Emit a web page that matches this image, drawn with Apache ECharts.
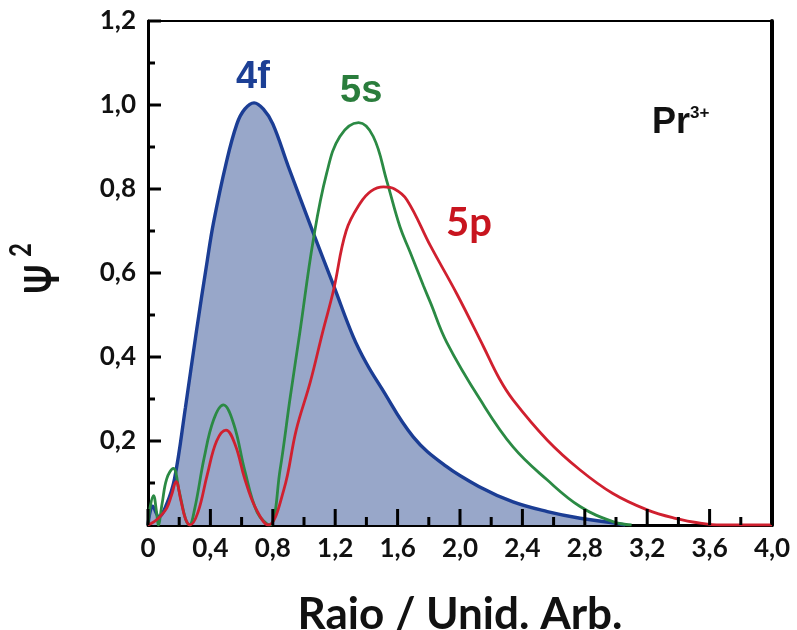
<!DOCTYPE html>
<html>
<head>
<meta charset="utf-8">
<script src="https://cdn.jsdelivr.net/npm/echarts@6/dist/echarts.min.js"></script>
<style>
html,body{margin:0;padding:0;background:#fff;}
#chart{width:797px;height:630px;}
</style>
</head>
<body>
<div id="chart"></div>
<script>
// ---- data ----
const f4X = [0, 0.03, 0.07, 0.12, 0.17, 0.24, 0.31, 0.38, 0.42, 0.50, 0.57, 0.62, 0.68, 0.74, 0.80, 0.90, 1.06, 1.19, 1.316, 1.40, 1.49, 1.70, 1.91, 2.13, 2.34, 2.56, 2.77, 2.98, 3.06];
const f4Y = [0, 0.045, 0.02, 0.05, 0.11, 0.28, 0.46, 0.63, 0.72, 0.86, 0.955, 0.99, 1.005, 0.99, 0.955, 0.853, 0.695, 0.57, 0.448, 0.385, 0.33, 0.21, 0.14, 0.09, 0.055, 0.032, 0.016, 0.005, 0];

const s5X = [0, 0.015, 0.035, 0.055, 0.066, 0.09, 0.12, 0.162, 0.2, 0.24, 0.265, 0.3, 0.36, 0.42, 0.483, 0.55, 0.62, 0.7, 0.78, 0.846, 0.91, 0.974, 1.06, 1.145, 1.23, 1.35, 1.444, 1.53, 1.615, 1.68, 1.765, 1.81, 1.915, 2.13, 2.34, 2.56, 2.77, 2.98, 3.1];
const s5Y = [0, 0.045, 0.07, 0.03, 0, 0.05, 0.11, 0.135, 0.08, 0.015, 0, 0.04, 0.16, 0.25, 0.286, 0.24, 0.13, 0.03, 0, 0.13, 0.30, 0.46, 0.68, 0.837, 0.925, 0.958, 0.925, 0.82, 0.71, 0.65, 0.57, 0.53, 0.435, 0.298, 0.186, 0.107, 0.044, 0.008, 0];

const p5X = [0, 0.04, 0.077, 0.12, 0.15, 0.18, 0.21, 0.24, 0.27, 0.32, 0.38, 0.44, 0.5, 0.56, 0.62, 0.69, 0.77, 0.87, 0.95, 1.04, 1.12, 1.19, 1.27, 1.36, 1.43, 1.51, 1.58, 1.66, 1.81, 1.98, 2.15, 2.25, 2.34, 2.56, 2.77, 2.98, 3.2, 3.38, 3.55, 3.67, 4.0];
const p5Y = [0, 0.008, 0.02, 0.04, 0.07, 0.103, 0.06, 0.015, 0, 0.03, 0.12, 0.2, 0.226, 0.19, 0.11, 0.04, 0, 0.083, 0.226, 0.34, 0.46, 0.56, 0.70, 0.766, 0.795, 0.805, 0.80, 0.774, 0.665, 0.55, 0.425, 0.35, 0.298, 0.202, 0.131, 0.075, 0.036, 0.016, 0.004, 0, 0];

// tick values (major ticks carry labels)
const xTicks = [0, 0.4, 0.8, 1.2, 1.6, 2.0, 2.4, 2.8, 3.2, 3.6, 4.0];
const xMinorTicks = [0.2, 0.6, 1.0, 1.4, 1.8, 2.2, 2.6, 3.0, 3.4, 3.8];
const yTicks = [0.2, 0.4, 0.6, 0.8, 1.0, 1.2];
const yMinorTicks = [0.1, 0.3, 0.5, 0.7, 0.9, 1.1];

const curveNames = ['4f', '5s', '5p'];
const xTitle = 'Raio / Unid. Arb.';

// ---- helpers ----
const zip = (xs, ys) => xs.map((x, i) => [x, ys[i]]);
const fmt = v => v === 0 ? '0' : v.toFixed(1).replace('.', ',');

const chart = echarts.init(document.getElementById('chart'), null, {renderer: 'canvas'});
const tickFont = {fontFamily: 'Lato', fontWeight: 'bold', fontSize: 26, color: '#111'};

const textGraphics = [
  {type: 'text', left: 236, top: 59, z: 50, style: {text: curveNames[0], font: 'bold 38px "Liberation Sans Narrow", "Liberation Sans", sans-serif', fill: '#1c3f95'}},
  {type: 'text', left: 340, top: 73, z: 50, style: {text: curveNames[1], font: 'bold 38px "Liberation Sans Narrow", "Liberation Sans", sans-serif', fill: '#2a7d3c'}},
  {type: 'text', left: 446, top: 203, z: 50, style: {text: curveNames[2], font: 'bold 40px Lato, sans-serif', fill: '#c8151f'}},
  {type: 'text', left: 652, top: 101, z: 50, style: {
    text: '{a|Pr}{b|3+}',
    rich: {
      a: {fontFamily: 'Liberation Sans', fontWeight: 'bold', fontSize: 36, fill: '#111', lineHeight: 40, verticalAlign: 'bottom'},
      b: {fontFamily: 'Liberation Sans', fontWeight: 'bold', fontSize: 17, fill: '#111', lineHeight: 40, verticalAlign: 'top', padding: [4, 0, 0, 0]}
    }
  }},
  {type: 'text', x: 44, y: 279, rotation: Math.PI / 2, scaleX: 0.72, z: 50, style: {
    text: 'Ψ', font: 'bold 48px Lato, sans-serif', fill: '#111', align: 'center', verticalAlign: 'middle'
  }},
  {type: 'text', x: 21, y: 250, rotation: Math.PI / 2, scaleX: 0.8, z: 50, style: {
    text: '2', font: 'bold 30px Lato, sans-serif', fill: '#111', align: 'center', verticalAlign: 'middle'
  }}
];

const option = {
  animation: false,
  backgroundColor: '#fff',
  grid: {left: 148, right: 25, top: 21, bottom: 105, containLabel: false, outerBoundsMode: 'none'},
  xAxis: [{
    type: 'value', min: 0, max: 4, interval: 0.4,
    axisLine: {show: true, onZero: false, lineStyle: {color: '#000', width: 3}},
    axisTick: {show: false}, minorTick: {show: false},
    splitLine: {show: false},
    axisLabel: Object.assign({margin: 11, formatter: v => xTicks.some(t => Math.abs(t - v) < 1e-6) ? fmt(v) : ''}, tickFont),
    name: xTitle, nameLocation: 'middle', nameGap: 68,
    nameTextStyle: {fontFamily: 'Lato', fontWeight: 'bold', fontSize: 44, color: '#111'}
  }, {
    type: 'value', min: 0, max: 4, position: 'top',
    axisLine: {show: true, onZero: false, lineStyle: {color: '#000', width: 2}},
    axisTick: {show: false}, axisLabel: {show: false}, splitLine: {show: false}
  }],
  yAxis: [{
    type: 'value', min: 0, max: 1.2, interval: 0.2,
    axisLine: {show: true, onZero: false, lineStyle: {color: '#000', width: 3}},
    axisTick: {show: false}, minorTick: {show: false},
    splitLine: {show: false},
    axisLabel: Object.assign({margin: 12, formatter: v => yTicks.some(t => Math.abs(t - v) < 1e-6) ? fmt(v) : ''}, tickFont)
  }, {
    type: 'value', min: 0, max: 1.2, position: 'right',
    axisLine: {show: true, onZero: false, lineStyle: {color: '#000', width: 4}},
    axisTick: {show: false}, axisLabel: {show: false}, splitLine: {show: false}
  }],
  series: [{
    name: curveNames[0], type: 'line', data: zip(f4X, f4Y), smooth: 0.4,
    symbol: 'none', z: 2,
    lineStyle: {color: '#1b3d94', width: 3.4},
    areaStyle: {color: '#98a7c9', opacity: 1}
  }, {
    name: curveNames[1], type: 'line', data: zip(s5X, s5Y), smooth: 0.4,
    symbol: 'none', z: 3,
    lineStyle: {color: '#2b8a44', width: 2.8}
  }, {
    name: curveNames[2], type: 'line', data: zip(p5X, p5Y), smooth: 0.4,
    symbol: 'none', z: 4,
    lineStyle: {color: '#d0202f', width: 2.8}
  }],
  graphic: textGraphics
};
chart.setOption(option);

// inward tick marks as filled bars, positioned through the chart's own axis scales
const toPx = (x, y) => chart.convertToPixel({xAxisIndex: 0, yAxisIndex: 0}, [x, y]);
const tickRect = (x, y, w, h) => ({type: 'rect', z: 100, silent: true,
  shape: {x: x, y: y, width: w, height: h}, style: {fill: '#000'}});
const tickGraphics = [];
xTicks.forEach(v => { const p = toPx(v, 0); tickGraphics.push(tickRect(p[0] - 1.5, p[1] - 16, 3, 16)); });
xMinorTicks.forEach(v => { const p = toPx(v, 0); tickGraphics.push(tickRect(p[0] - 1.5, p[1] - 8, 3, 8)); });
yTicks.forEach(v => { const p = toPx(0, v); tickGraphics.push(tickRect(p[0], p[1] - 1.5, 13, 3)); });
yMinorTicks.forEach(v => { const p = toPx(0, v); tickGraphics.push(tickRect(p[0], p[1] - 1.5, 7, 3)); });
chart.setOption({graphic: textGraphics.concat(tickGraphics)});
</script>
</body>
</html>
